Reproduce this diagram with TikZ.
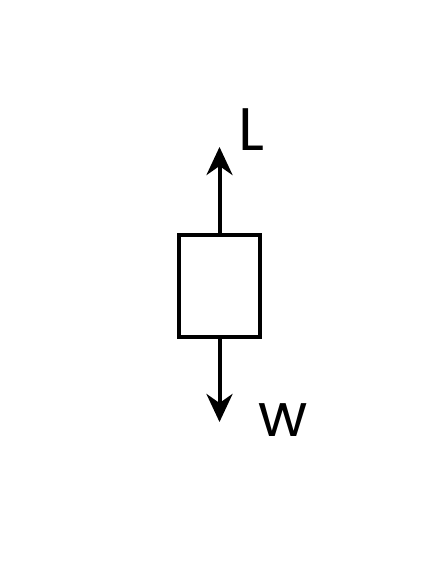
\documentclass[tikz,border=0pt]{standalone}
\usepackage{fontspec}
\setmainfont{Poppins}
\usetikzlibrary{arrows.meta}
\begin{document}
\begin{tikzpicture}[x=1pt,y=-1pt,
  force/.style={line width=4pt,-{Stealth[length=28pt,width=26pt,inset=9pt]}},
  lbl/.style={inner sep=0pt,font=\fontsize{60}{60}\selectfont}]
\useasboundingbox (0,0) rectangle (439,571);
\node[draw,line width=4pt,minimum width=81pt,minimum height=102pt,inner sep=0pt] (box) at (219.5,286) {};
\coordinate (top) at (219.5,147);
\coordinate (bot) at (219.5,422);
\draw[force] (box.north) -- (top);
\draw[force] (box.south) -- (bot);
\node[lbl,anchor=base west] (L) at (238,150) {L};
\node[lbl,anchor=base west] (w) at (258,436) {w};
\end{tikzpicture}
\end{document}
